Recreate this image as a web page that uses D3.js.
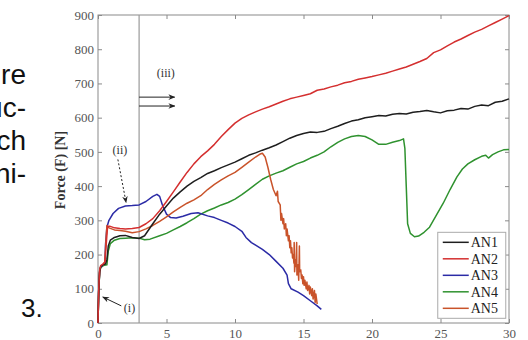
<!DOCTYPE html>
<html>
<head>
<meta charset="utf-8">
<script src="https://cdn.jsdelivr.net/npm/d3@7"></script>
<style>
  body { margin: 0; background: #fff; }
  svg { display: block; }
</style>
</head>
<body>
<div id="chart"></div>
<script>
// series values, [displacement, force]
var an1 = [[0,0],[0.05,90],[0.12,150],[0.2,165],[0.35,170],[0.55,172],[0.65,185],[0.75,225],[0.9,242],[1.2,250],[1.6,255],[2,256],[2.5,250],[3,247],[3.4,255],[4,290],[4.5,318],[5,342],[5.5,365],[6,383],[6.5,400],[7,414],[7.5,425],[8,437],[8.5,445],[9,454],[9.5,462],[10,470],[10.5,480],[11,490],[11.5,497],[12,505],[12.5,512],[13,520],[13.5,530],[14,540],[14.5,548],[15,554],[15.5,558],[16,557],[16.5,560],[17,568],[17.5,575],[18,583],[18.5,590],[19,594],[19.5,600],[20,603],[20.5,606],[21,605],[21.5,610],[22,612],[22.5,611],[23,616],[23.5,618],[24,621],[24.5,617],[25,614],[25.5,620],[26,622],[26.5,627],[27,625],[27.5,633],[28,637],[28.5,635],[29,645],[29.5,648],[30,655]];
var an2 = [[0,0],[0.05,95],[0.12,155],[0.2,168],[0.35,172],[0.5,178],[0.6,230],[0.7,282],[0.85,283],[1.2,278],[1.6,276],[2,275],[2.5,276],[3,279],[3.5,290],[4,305],[4.5,328],[5,355],[5.5,383],[6,412],[6.5,440],[7,465],[7.5,486],[8,503],[8.5,522],[9,545],[9.5,565],[10,584],[10.5,598],[11,608],[11.5,617],[12,625],[12.5,632],[13,640],[13.5,648],[14,655],[14.5,660],[15,665],[15.5,670],[16,680],[16.5,684],[17,690],[17.5,695],[18,702],[18.5,706],[19,712],[19.5,716],[20,720],[20.5,725],[21,730],[21.5,736],[22,742],[22.5,748],[23,756],[23.5,764],[24,773],[24.5,790],[25,798],[25.5,810],[26,821],[26.5,830],[27,840],[27.5,850],[28,858],[28.5,868],[29,878],[29.5,888],[30,898]];
var an3 = [[0,0],[0.05,95],[0.12,150],[0.2,165],[0.35,168],[0.5,175],[0.55,230],[0.65,280],[0.8,300],[1.1,320],[1.5,335],[2,342],[2.5,343],[3,345],[3.5,355],[4,370],[4.3,376],[4.5,370],[4.7,345],[5,318],[5.3,308],[5.7,307],[6.2,312],[6.8,320],[7.3,322],[8,313],[8.5,308],[9,300],[9.5,292],[10,282],[10.5,268],[10.8,250],[11.2,235],[12,215],[12.5,200],[13,180],[13.5,160],[13.8,140],[13.9,115],[14.1,100],[14.6,90],[15,80],[15.5,65],[16,50],[16.3,40]];
var an4 = [[0,0],[0.05,90],[0.12,148],[0.2,162],[0.4,168],[0.65,170],[0.75,210],[0.9,232],[1.2,242],[1.6,247],[2,248],[2.5,249],[3,248],[3.4,243],[3.8,245],[4.5,255],[5,262],[5.5,272],[6,282],[6.5,293],[7,305],[7.5,318],[8,328],[8.5,336],[9,345],[9.5,352],[10,362],[10.5,375],[11,390],[11.5,405],[12,420],[12.5,430],[13,438],[13.5,445],[14,455],[14.5,465],[15,472],[15.5,482],[16,490],[16.5,500],[17,515],[17.5,528],[18,538],[18.5,545],[19,548],[19.5,545],[20,535],[20.5,522],[21,522],[21.5,528],[22,533],[22.3,538],[22.4,510],[22.5,400],[22.6,290],[22.8,262],[23.1,252],[23.4,254],[23.8,265],[24.2,280],[24.7,315],[25.2,350],[25.7,390],[26.2,427],[26.6,450],[27,465],[27.5,477],[28,487],[28.3,490],[28.5,482],[28.8,492],[29.2,500],[29.6,506],[30,507]];
var an5 = [[0,0],[0.05,92],[0.12,152],[0.2,166],[0.4,170],[0.5,178],[0.58,240],[0.65,285],[0.8,278],[1.2,272],[1.6,270],[2,268],[2.5,264],[3,267],[3.5,275],[4,285],[4.5,297],[5,310],[5.5,325],[6,338],[6.5,350],[7,360],[7.5,372],[8,390],[8.5,405],[9,418],[9.5,430],[10,440],[10.5,455],[11,470],[11.5,485],[11.8,493],[12,496],[12.2,485],[12.4,455],[12.6,420],[12.8,390],[13,372],[13.1,385],[13.15,355],[13.3,345],[13.35,300],[13.4,320],[13.5,290],[13.55,305],[13.6,275],[13.7,290],[13.75,255],[13.8,275],[13.9,240],[13.95,255],[14,220],[14.05,240],[14.1,205],[14.15,220],[14.2,190],[14.25,200],[14.3,175],[14.32,235],[14.35,150],[14.4,185],[14.45,165],[14.5,235],[14.52,140],[14.6,170],[14.65,125],[14.7,225],[14.72,150],[14.8,155],[14.85,130],[14.9,140],[14.95,115],[15,135],[15.05,110],[15.1,125],[15.2,100],[15.25,120],[15.3,95],[15.4,110],[15.45,85],[15.5,105],[15.6,80],[15.65,100],[15.7,70],[15.8,95],[15.85,60],[15.9,85],[16,55]];

var seriesNames = ["AN1", "AN2", "AN3", "AN4", "AN5"];
var seriesData = [an1, an2, an3, an4, an5];
var colors = ["#1e1e1e", "#d42f2f", "#2b2ba6", "#2f922f", "#c9532a"];

var xTicks = [0, 5, 10, 15, 20, 25, 30];
var yTicks = [0, 100, 200, 300, 400, 500, 600, 700, 800, 900];

// bits of the slide text cut off on the left
var slideLines = ["re", "uc-", "ch", "ni-"];
var slideNumber = "3.";

var W = 528, H = 340;
var margin = {top: 15, right: 19, bottom: 17, left: 98},
    width = W - margin.left - margin.right,
    height = H - margin.top - margin.bottom;

var svg = d3.select("#chart")
  .append("svg")
    .attr("width", W)
    .attr("height", H);

svg.append("rect").attr("width", W).attr("height", H).attr("fill", "#fff");

// slide text
svg.selectAll("slideText")
  .data(slideLines)
  .enter()
  .append("text")
    .attr("x", 26)
    .attr("y", function(d, i){ return 84 + i * 33 })
    .attr("text-anchor", "end")
    .style("font-family", "'Liberation Sans', Arial, sans-serif")
    .style("font-size", "28px")
    .attr("fill", "#111")
    .text(function(d){ return d });

svg.append("text")
  .attr("x", 21)
  .attr("y", 317)
  .style("font-family", "'Liberation Sans', Arial, sans-serif")
  .style("font-size", "26px")
  .attr("fill", "#111")
  .text(slideNumber);

var g = svg.append("g")
  .attr("transform", "translate(" + margin.left + "," + margin.top + ")");

var x = d3.scaleLinear().domain([0, 30]).range([0, width]);
var y = d3.scaleLinear().domain([0, 900]).range([height, 0]);

var tickFont = "'Liberation Serif', 'Times New Roman', serif";

function styleAxis(sel) {
  sel.select(".domain").remove();
  sel.selectAll(".tick line").attr("stroke", "#8a8a8a");
  sel.selectAll(".tick text")
    .attr("fill", "#555")
    .style("font-family", tickFont)
    .style("font-size", "13px");
}

g.append("g")
  .attr("transform", "translate(0," + height + ")")
  .call(d3.axisBottom(x).tickValues(xTicks).tickSize(-4).tickPadding(6))
  .call(styleAxis);

g.append("g")
  .call(d3.axisLeft(y).tickValues(yTicks).tickSize(-4).tickPadding(4))
  .call(styleAxis);

g.append("g")
  .call(d3.axisTop(x).tickValues(xTicks).tickSize(-4).tickFormat(""))
  .call(styleAxis);

g.append("g")
  .attr("transform", "translate(" + width + ",0)")
  .call(d3.axisRight(y).tickValues(yTicks).tickSize(-4).tickFormat(""))
  .call(styleAxis);

g.append("rect")
  .attr("width", width)
  .attr("height", height)
  .attr("fill", "none")
  .attr("stroke", "#8a8a8a")
  .attr("stroke-width", 1);

// y axis title
svg.append("text")
  .attr("transform", "translate(65,170) rotate(-90)")
  .attr("text-anchor", "middle")
  .style("font-family", tickFont)
  .style("font-size", "14px")
  .style("font-weight", "bold")
  .attr("fill", "#333")
  .text("Force (F) [N]");

// vertical marker at 3 mm
g.append("line")
  .attr("x1", x(3)).attr("x2", x(3))
  .attr("y1", 0).attr("y2", height)
  .attr("stroke", "#9a9a9a")
  .attr("stroke-width", 1.2);

var line = d3.line()
  .x(function(d){ return x(d[0]) })
  .y(function(d){ return y(d[1]) });

// draw AN4, AN3, AN5, AN1, AN2
[3, 2, 4, 0, 1].forEach(function(i) {
  g.append("path")
    .datum(seriesData[i])
    .attr("d", line)
    .attr("fill", "none")
    .attr("stroke", colors[i])
    .attr("stroke-width", 1.5)
    .attr("stroke-linejoin", "round");
});

// arrow markers
var defs = svg.append("defs");
defs.append("marker")
  .attr("id", "arrow")
  .attr("viewBox", "0 0 10 10")
  .attr("refX", 9).attr("refY", 5)
  .attr("markerWidth", 7).attr("markerHeight", 7)
  .attr("orient", "auto")
  .append("path")
    .attr("d", "M0,1 L10,5 L0,9 L3,5 Z")
    .attr("fill", "#222");

// annotations
function annText(px, py, t) {
  g.append("text")
    .attr("x", x(px)).attr("y", y(py))
    .attr("text-anchor", "middle")
    .style("font-family", tickFont)
    .style("font-size", "12px")
    .attr("fill", "#333")
    .text(t);
}
function annArrow(a, b, dash) {
  g.append("line")
    .attr("x1", x(a[0])).attr("y1", y(a[1]))
    .attr("x2", x(b[0])).attr("y2", y(b[1]))
    .attr("stroke", "#222")
    .attr("stroke-width", 1)
    .attr("stroke-dasharray", dash ? "2,2" : null)
    .attr("marker-end", "url(#arrow)");
}

annText(4.95, 720, "(iii)");
annArrow([3.0, 660], [5.6, 660], false);
annArrow([3.0, 634], [5.6, 634], false);

annText(1.6, 495, "(ii)");
annArrow([1.45, 478], [2.05, 352], true);

annText(2.3, 33, "(i)");
annArrow([1.7, 50], [0.35, 76], false);

// legend
var lgX = x(24.8), lgY = y(265);
var legend = g.append("g").attr("transform", "translate(" + lgX + "," + lgY + ")");
legend.append("rect")
  .attr("width", 68).attr("height", 86)
  .attr("fill", "#fff")
  .attr("stroke", "#aaa");
seriesNames.forEach(function(name, i) {
  var row = legend.append("g").attr("transform", "translate(0," + (10 + i * 16.5) + ")");
  row.append("line")
    .attr("x1", 5).attr("x2", 31)
    .attr("stroke", colors[i])
    .attr("stroke-width", 1.5);
  row.append("text")
    .attr("x", 33).attr("y", 5)
    .style("font-family", tickFont)
    .style("font-size", "14px")
    .attr("fill", "#222")
    .text(name);
});
</script>
</body>
</html>
